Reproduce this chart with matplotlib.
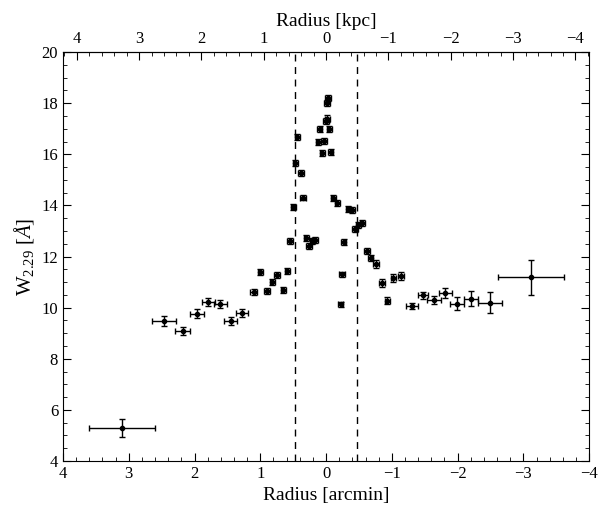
import matplotlib
matplotlib.use("Agg")
import matplotlib.pyplot as plt
from matplotlib.ticker import MultipleLocator, FixedLocator

plt.rcParams["font.family"] = ["Liberation Serif", "DejaVu Serif"]
plt.rcParams["mathtext.fontset"] = "custom"
plt.rcParams["mathtext.rm"] = "Liberation Serif"
plt.rcParams["mathtext.it"] = "Liberation Serif:italic"
plt.rcParams["mathtext.bf"] = "Liberation Serif:bold"

# radius in arcmin, equivalent width, errors
r = [3.10, 2.46, 2.18, 1.96, 1.79, 1.61, 1.45, 1.28, 1.10, 1.00,
     0.90, 0.82, 0.745, 0.65, 0.59, 0.55, 0.50, 0.47, 0.44, 0.38,
     0.35, 0.30, 0.26, 0.21, 0.17, 0.12, 0.10, 0.06, 0.03, 0.00,
     -0.02, -0.015, -0.03, -0.05, -0.07, -0.11, -0.17, -0.22, -0.24, -0.27,
     -0.34, -0.40, -0.44, -0.49, -0.55, -0.62, -0.68, -0.76, -0.85, -0.93,
     -1.02, -1.14, -1.31, -1.47, -1.64, -1.81, -1.99, -2.20, -2.49, -3.12]
w = [5.28, 9.47, 9.09, 9.77, 10.22, 10.14, 9.48, 9.79, 10.60, 11.38,
     10.65, 11.00, 11.28, 10.70, 11.43, 12.60, 13.94, 15.66, 16.68, 15.27,
     14.30, 12.72, 12.41, 12.60, 12.66, 16.48, 16.99, 16.05, 16.52, 17.30,
     17.40, 18.00, 18.20, 16.99, 16.09, 14.29, 14.10, 10.14, 11.30, 12.57,
     13.86, 13.82, 13.07, 13.24, 13.30, 12.20, 11.94, 11.70, 10.96, 10.28,
     11.15, 11.24, 10.08, 10.48, 10.30, 10.58, 10.15, 10.35, 10.20, 11.18]
r_err = [0.50, 0.18, 0.11, 0.11, 0.10, 0.10, 0.10, 0.09, 0.05, 0.04,
         0.05, 0.04, 0.04, 0.04, 0.04, 0.04, 0.04, 0.04, 0.04, 0.04,
         0.04, 0.04, 0.04, 0.04, 0.04, 0.04, 0.04, 0.04, 0.04, 0.04,
         0.04, 0.04, 0.04, 0.04, 0.04, 0.04, 0.04, 0.04, 0.04, 0.04,
         0.04, 0.04, 0.04, 0.04, 0.04, 0.04, 0.04, 0.04, 0.04, 0.04,
         0.04, 0.04, 0.09, 0.08, 0.10, 0.10, 0.10, 0.11, 0.18, 0.50]
w_err = [0.35, 0.20, 0.17, 0.17, 0.15, 0.15, 0.15, 0.15, 0.12, 0.12,
         0.12, 0.12, 0.12, 0.12, 0.12, 0.12, 0.12, 0.12, 0.12, 0.12,
         0.10, 0.12, 0.12, 0.12, 0.12, 0.12, 0.12, 0.12, 0.12, 0.12,
         0.12, 0.12, 0.12, 0.12, 0.12, 0.12, 0.12, 0.10, 0.10, 0.10,
         0.12, 0.12, 0.12, 0.12, 0.12, 0.12, 0.12, 0.15, 0.15, 0.15,
         0.15, 0.15, 0.12, 0.15, 0.15, 0.20, 0.25, 0.30, 0.40, 0.67]
kpc_ticks = [4, 3, 2, 1, 0, -1, -2, -3, -4]

kpc_per_arcmin = 1.055
r_core = 0.47

fig = plt.figure(figsize=(6.0, 5.08), dpi=100)
ax = fig.add_axes([0.105, 0.0925, 0.877, 0.805])

ax.errorbar(r, w, xerr=r_err, yerr=w_err, fmt="o", color="black",
            ms=3, elinewidth=1, capsize=2.5, capthick=1)
for xc in (r_core, -r_core):
    ax.axvline(xc, color="black", ls=(0, (5, 4)), lw=1)

ax.set_xlim(4, -4)
ax.set_ylim(4, 20)
ax.xaxis.set_major_locator(MultipleLocator(1))
ax.xaxis.set_minor_locator(MultipleLocator(0.2))
ax.yaxis.set_major_locator(MultipleLocator(2))
ax.yaxis.set_minor_locator(MultipleLocator(0.5))
ax.tick_params(which="both", direction="in", top=False, right=True, labelsize=12)
ax.tick_params(which="major", length=6)
ax.tick_params(which="minor", length=3)
ax.set_xlabel("Radius [arcmin]", fontsize=14)
ax.set_ylabel(r"W$_{2.29}$ [$Å$]", fontsize=15)

sec = ax.secondary_xaxis("top", functions=(lambda x: x * kpc_per_arcmin,
                                           lambda x: x / kpc_per_arcmin))
sec.xaxis.set_major_locator(FixedLocator(kpc_ticks))
sec.xaxis.set_minor_locator(MultipleLocator(0.2))
sec.tick_params(which="both", direction="in", labelsize=12)
sec.tick_params(which="major", length=6)
sec.tick_params(which="minor", length=3)
sec.set_xlabel("Radius [kpc]", fontsize=14)

fig.savefig("out.png", dpi=100)
